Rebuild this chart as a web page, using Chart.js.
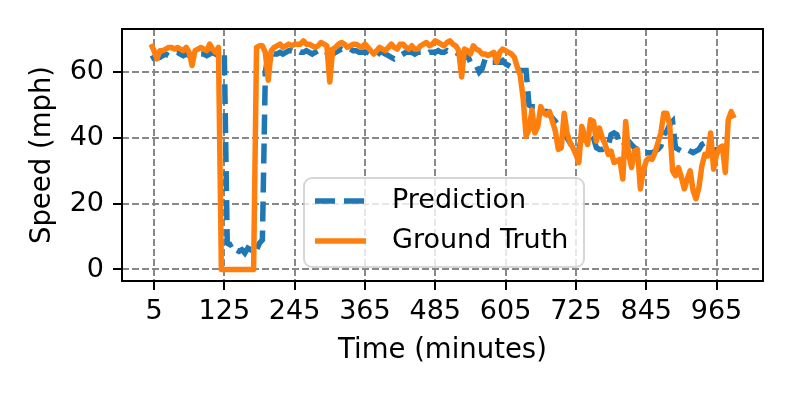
<!DOCTYPE html>
<html>
<head>
<meta charset="utf-8">
<script src="https://cdn.jsdelivr.net/npm/chart.js@4.4.1/dist/chart.umd.min.js"></script>
<style>
  html, body { margin: 0; padding: 0; background: #fff; }
  #wrap { width: 793px; height: 397px; position: relative; }
</style>
</head>
<body>
<div id="wrap"><canvas id="chart"></canvas></div>
<script>
// speed readings, one every 5 minutes starting at 0
const groundTruth = [
  68.5, 66.5, 64, 66.5, 66.5, 67, 67.5, 67.5, 67, 67.5,
  67, 66.5, 67.5, 66, 62, 66.5, 67, 67.5, 67, 66.5,
  68.5, 67, 66, 67.5, 0, 0, 0, 0, 0, 0,
  0, 0, 0, 0, 0, 0, 67.5, 68, 68, 66,
  57.5, 66.5, 67.5, 68, 68.5, 67.5, 68, 68.5, 68, 68.5,
  68.5, 68.5, 69.5, 68.5, 68.5, 68, 67.5, 68, 69, 68.5,
  68, 57, 67, 67.5, 68.5, 69, 68.5, 67.5, 68, 68.5,
  68.5, 68, 67.5, 68.5, 67.5, 66.5, 65.5, 66.5, 67.5, 67,
  66.5, 67.5, 68.5, 67.5, 67, 68.5, 68.5, 67.5, 67, 68,
  67, 67, 68, 68.5, 69, 68, 68.5, 69.5, 69, 68.5,
  68, 69, 69.5, 68.5, 68, 66.5, 58.5, 67, 66.5, 65.5,
  68, 67, 66.5, 65.5, 65.5, 65, 65.5, 66, 63, 66,
  67, 66.5, 66, 65.5, 64.5, 61.5, 59, 52, 40.5, 42.5,
  48.5, 41.5, 43.5, 49.5, 47.5, 47, 48, 45, 42, 36.5,
  37, 47.5, 41.5, 38.5, 37, 35, 32.5, 43.5, 40.5, 38,
  45.5, 45, 39, 43, 40, 38, 35, 36, 32.5, 33,
  33.5, 27.5, 45, 35, 31, 36, 36.5, 24.5, 30, 33,
  34, 33.5, 35.5, 38.5, 41.5, 47.5, 47.5, 44, 30, 28.5,
  31, 28, 24.5, 27.5, 30, 24, 21.5, 25, 31.5, 35,
  34.5, 41.5, 30.5, 35, 37, 37.5, 29.5, 45.5, 48, 46
];

const prediction = [
  64, 64.5, 65, 64.5, 65, 65.5, 65, 65.5, 66, 66,
  65.5, 65, 65.5, 65, 64.5, 64, 65, 65.5, 65.5, 65,
  65.5, 66, 65.5, 65, 65.5, 66, 8, 7.5, 8, 6,
  5.5, 6, 5, 6.5, 6, 7, 6, 8, 9, 60,
  65.5, 66, 65.5, 65.5, 66, 65.5, 66, 66.5, 66.5, 66,
  66.5, 66, 66, 66.5, 66, 65.5, 66, 66.5, 66, 66.5,
  66, 66.5, 65.5, 66, 66.5, 67, 66.5, 66.5, 67, 66.5,
  66.5, 66, 66, 66, 66, 65.5, 65, 65, 66, 66,
  65.5, 65, 64.5, 64, 64.5, 65, 65.5, 66, 66, 66,
  65.5, 66, 66, 66, 65.5, 66, 66, 66, 66.5, 66,
  66, 66.5, 66, 66, 66, 65.5, 65, 64.5, 65, 63,
  63, 62, 60, 61, 64, 63.5, 63, 63, 63, 63,
  63.5, 62.5, 62, 61.5, 61, 61, 60.5, 60.5, 60.5, 50,
  49.5, 49.5, 48.5, 48, 48, 48, 47, 46, 45, 44,
  44, 43.5, 40, 38.5, 37, 36.5, 36.5, 40, 42, 42,
  41, 40, 37, 36.5, 36.5, 37, 37.5, 41, 41.5, 41,
  38, 37.5, 38.5, 39, 38, 37, 36.5, 36.5, 35.5, 35.5,
  35.5, 35.5, 36, 36.5, 37.5, 41, 42, 44, 45, 37,
  36.5, 36, 36, 36.5, 36, 35.5, 36, 36.5, 38, 38.5,
  38, 37, 36, 36.5, 36.5, 37, 37.5, 37, 37.5, 37
];

const minutes = groundTruth.map((_, i) => i * 5);
const xTicks = [5, 125, 245, 365, 485, 605, 725, 845, 965];
const yTicks = [0, 20, 40, 60];

Chart.defaults.font.family = "'DejaVu Sans', sans-serif";
Chart.defaults.color = '#000';

const toPoints = values => values.map((v, i) => ({ x: minutes[i], y: v }));

// box around the plot area plus a legend drawn inside it, like matplotlib
const frameAndLegend = {
    id: 'frameAndLegend',
    afterDatasetsDraw(chart) {
        const { ctx, chartArea: a } = chart;
        ctx.save();
        ctx.strokeStyle = '#000';
        ctx.lineWidth = 2;
        ctx.strokeRect(a.left, a.top, a.right - a.left, a.bottom - a.top);

        const bx = 304, by = 178, bw = 280, bh = 89;
        ctx.beginPath();
        ctx.roundRect(bx, by, bw, bh, 8);
        ctx.fillStyle = 'rgba(255,255,255,0.8)';
        ctx.fill();
        ctx.strokeStyle = 'rgba(204,204,204,0.8)';
        ctx.lineWidth = 2;
        ctx.stroke();

        const rows = [chart.data.datasets[1], chart.data.datasets[0]];
        rows.forEach((ds, i) => {
            const y = 201 + i * 40;
            ctx.beginPath();
            ctx.setLineDash(ds.borderDash || []);
            ctx.strokeStyle = ds.borderColor;
            ctx.lineWidth = ds.borderWidth;
            ctx.lineCap = 'butt';
            ctx.moveTo(315, y);
            ctx.lineTo(366, y);
            ctx.stroke();
            ctx.setLineDash([]);
            ctx.fillStyle = '#000';
            ctx.font = "27px 'DejaVu Sans'";
            ctx.textBaseline = 'middle';
            ctx.fillText(ds.label, 392, y);
        });
        ctx.restore();
    }
};

new Chart(document.getElementById('chart'), {
    type: 'line',
    data: {
        datasets: [{
            label: 'Ground Truth',
            data: toPoints(groundTruth),
            borderColor: '#ff7f0e',
            borderWidth: 5.5,
            borderJoinStyle: 'round',
            pointRadius: 0,
            tension: 0,
            order: 0
        }, {
            label: 'Prediction',
            data: toPoints(prediction),
            borderColor: '#1f77b4',
            borderWidth: 5.5,
            borderDash: [20, 9],
            borderCapStyle: 'butt',
            pointRadius: 0,
            tension: 0,
            order: 1
        }]
    },
    options: {
        responsive: true,
        maintainAspectRatio: false,
        animation: false,
        devicePixelRatio: 1,
        layout: { padding: { left: 0, top: 29, right: 30, bottom: 0 } },
        plugins: { legend: { display: false }, tooltip: { enabled: false } },
        scales: {
            x: {
                type: 'linear',
                min: -49.6,
                max: 1044.3,
                afterBuildTicks: axis => { axis.ticks = xTicks.map(v => ({ value: v })); },
                afterFit: axis => { axis.height = 116; },
                ticks: {
                    autoSkip: false,
                    maxRotation: 0,
                    padding: 6,
                    font: { size: 27 },
                    callback: v => String(v)
                },
                grid: {
                    color: '#888',
                    lineWidth: 2,
                    tickLength: 9,
                    tickColor: '#000',
                    tickWidth: 2
                },
                border: { display: false, dash: [7, 3] },
                title: {
                    display: true,
                    text: 'Time (minutes)',
                    font: { size: 27.5 },
                    padding: { top: 0, bottom: 30 }
                }
            },
            y: {
                min: -3.5,
                max: 73.1,
                afterBuildTicks: axis => { axis.ticks = yTicks.map(v => ({ value: v })); },
                afterFit: axis => { axis.width = 122; },
                ticks: {
                    padding: 9,
                    font: { size: 27 },
                    callback: v => String(v)
                },
                grid: {
                    color: '#888',
                    lineWidth: 2,
                    tickLength: 9,
                    tickColor: '#000',
                    tickWidth: 2
                },
                border: { display: false, dash: [7, 3] },
                title: {
                    display: true,
                    text: 'Speed (mph)',
                    font: { size: 27.5 },
                    padding: { top: 26, bottom: 0 }
                }
            }
        }
    },
    plugins: [frameAndLegend]
});
</script>
</body>
</html>
